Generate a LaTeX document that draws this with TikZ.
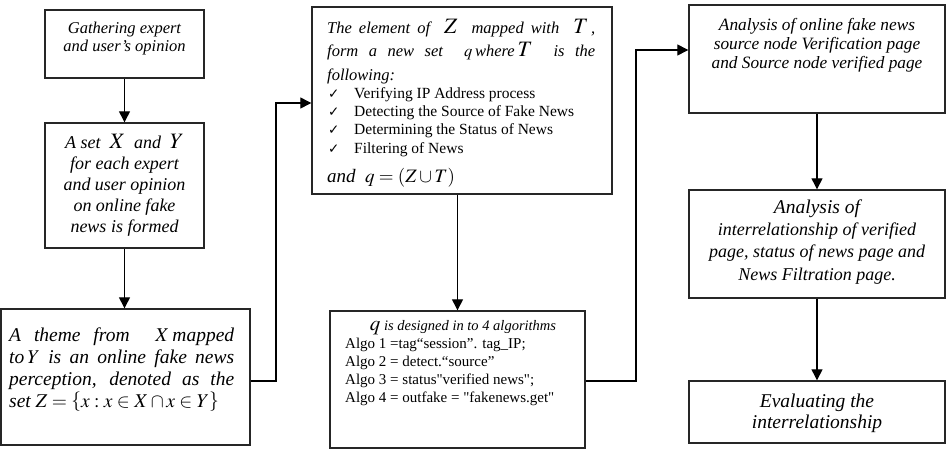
\documentclass[tikz,border=0pt]{standalone}
\usepackage{mathptmx}
\usepackage{fontspec}
\setmainfont{Liberation Serif}[Ligatures=TeXOff]
\newfontfamily\symfont{DejaVu Sans}
\usetikzlibrary{arrows.meta}
\newcommand{\fs}[2]{\fontsize{#1}{#2}\selectfont}
\tikzset{
  box/.style={draw=black!85, line width=1.4pt, inner sep=0pt, rectangle},
  conn/.style={line width=1.3pt, -{Triangle[length=11pt,width=11pt]}},
  txt/.style={inner sep=0pt, align=center},
  txtl/.style={inner sep=0pt, align=left},
}
\newcommand{\ck}{\makebox[26pt][l]{\symfont\fs{13.5}{18.3}✓}}
\begin{document}
\begin{tikzpicture}[x=1pt,y=-1pt]
\useasboundingbox (0,0) rectangle (952,450);
% boxes
\node[box, minimum width=159pt, minimum height=68pt] (b1) at (124.5,44) {};
\node[box, minimum width=159pt, minimum height=125pt] (b2) at (124.5,185.5) {};
\node[box, minimum width=249pt, minimum height=136pt] (b3) at (125.5,377) {};
\node[box, minimum width=300pt, minimum height=187pt] (b4) at (462,100.5) {};
\node[box, minimum width=255pt, minimum height=137pt] (b5) at (457.5,379.5) {};
\node[box, minimum width=256pt, minimum height=108pt] (b6) at (817,59) {};
\node[box, minimum width=256pt, minimum height=108pt] (b7) at (817,244) {};
\node[box, minimum width=256pt, minimum height=62pt] (b8) at (817,412) {};
% texts (anchor base = baseline of last line)
\node[txt, anchor=base, font=\fs{16.5}{18}\itshape] (t1) at (124.5,51) {Gathering expert\\and user’s opinion};
\node[txt, anchor=base, font=\fs{18}{21}\itshape] (t2) at (124.5,232) {A set \ {\fs{22}{21}$X$} \ and \ {\fs{22}{21}$Y$}\\for each expert\\and user opinion\\on online fake\\news is formed};
\node[txtl, anchor=base west, font=\fs{19.5}{22}\itshape] (t3) at (9,407) {%
\makebox[225pt][s]{A theme from \ $X$\,mapped}\\
\makebox[225pt][s]{to\,$Y$ is an online fake news}\\
\makebox[225pt][s]{perception, denoted as the}\\
set $Z=\left\{x:x\in X\cap x\in Y\right\}$};
\node[txtl, anchor=base west, font=\fs{16.5}{23.5}\itshape] (t4a) at (327,80) {%
\makebox[268pt][s]{The element of \ {\fs{22}{23.5}$Z$} \ mapped with \ {\fs{22}{23.5}$T$}\,,}\\
\makebox[268pt][s]{form a new set \ $q$\,where\,{\fs{22}{23.5}$T$} \ is the}\\
following:};
\node[txtl, anchor=base west, font=\fs{15.5}{18.3}] (t4b) at (328,153) {%
\ck Verifying IP Address process\\
\ck Detecting the Source of Fake News\\
\ck Determining the Status of News\\
\ck Filtering of News};
\node[txtl, anchor=base west, font=\fs{19}{22}\itshape] (t4c) at (327,182) {and \ $q=\left(Z\cup T\right)$};
\node[txt, anchor=base, font=\fs{14.5}{18}\itshape] (t5a) at (463,330) {{\fs{21}{18}$q$} is designed in to 4 algorithms};
\node[txtl, anchor=base west, font=\fs{15}{18}] (t5b) at (345,402) {%
Algo 1 =tag“session”. tag\_IP;\\
Algo 2 = detect.“source”\\
Algo 3 = status"verified news";\\
Algo 4 = outfake = "fakenews.get"};
\node[txt, anchor=base, font=\fs{17.3}{19}\itshape] (t6) at (817,68) {Analysis of online fake news\\source node Verification page\\and Source node verified page};
\node[txt, anchor=base, font=\fs{18}{22.3}\itshape] (t7) at (817,280) {{\fs{19.5}{22.3}Analysis of}\\interrelationship of verified\\page, status of news page and\\News Filtration page.};
\node[txt, anchor=base, font=\fs{19.5}{21}\itshape] (t8) at (817,428) {Evaluating the\\interrelationship};
% connectors
\coordinate (c1) at (276,381);
\coordinate (c2) at (276,103);
\coordinate (c3) at (636,381);
\coordinate (c4) at (636,50);
\draw[conn] (b1.south) -- (b2.north);
\draw[conn] (b2.south) -- (b2.south |- b3.north);
\draw[conn] (b3.east |- c1) -- (c1) -- (c2) -- (b4.west |- c2);
\draw[conn] (b5.north |- b4.south) -- (b5.north);
\draw[conn] (b5.east |- c3) -- (c3) -- (c4) -- (b6.west |- c4);
\draw[conn] (b6.south) -- (b7.north);
\draw[conn] (b7.south) -- (b8.north);
\end{tikzpicture}
\end{document}
